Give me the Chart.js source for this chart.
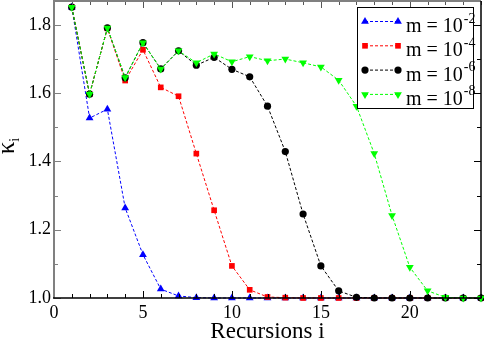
<!DOCTYPE html>
<html>
<head>
<title>Kappa vs recursions</title>
<script src="https://cdn.jsdelivr.net/npm/chart.js"></script>
<style>
  html, body { margin: 0; padding: 0; background: #fff; }
  #wrap { width: 484px; height: 338px; }
</style>
</head>
<body>
<div id="wrap"><canvas id="grafica"></canvas></div>
<script>
// datos
const recursions = [1, 2, 3, 4, 5, 6, 7, 8, 9, 10, 11, 12, 13, 14, 15, 16, 17, 18, 19, 20, 21, 22, 23, 24];
const kappaM2 = [1.852, 1.527, 1.553, 1.264, 1.127, 1.026, 1.006, 1.001, 1.0, 1.0, 1.0, 1.0, 1.0, 1.0, 1.0, 1.0, 1.0, 1.0, 1.0, 1.0, 1.0, 1.0, 1.0, 1.0];
const kappaM4 = [1.852, 1.597, 1.790, 1.637, 1.727, 1.617, 1.591, 1.423, 1.257, 1.094, 1.024, 1.003, 1.001, 1.0, 1.0, 1.0, 1.0, 1.0, 1.0, 1.0, 1.0, 1.0, 1.0, 1.0];
const kappaM6 = [1.852, 1.597, 1.791, 1.645, 1.748, 1.671, 1.724, 1.682, 1.705, 1.670, 1.648, 1.562, 1.429, 1.246, 1.094, 1.021, 1.002, 1.0, 1.0, 1.0, 1.0, 1.0, 1.0, 1.0];
const kappaM8 = [1.852, 1.597, 1.791, 1.646, 1.748, 1.671, 1.724, 1.689, 1.715, 1.692, 1.707, 1.695, 1.700, 1.689, 1.677, 1.638, 1.562, 1.423, 1.242, 1.090, 1.021, 1.002, 1.0, 1.0];
const legendExps = ['-2', '-4', '-6', '-8'];
const xTicks = [0, 5, 10, 15, 20];
const yTicks = [1.0, 1.2, 1.4, 1.6, 1.8];

const serif = '"Liberation Serif", "DejaVu Serif", serif';
Chart.defaults.font.family = serif;

function puntos(serie) {
    return recursions.map((r, i) => ({ x: r, y: serie[i] }));
}

function serieBase(label, color, style, serie, orden, radio, rot) {
    return {
        label: label,
        data: puntos(serie),
        borderColor: color,
        backgroundColor: color,
        borderWidth: 1,
        borderDash: [3, 2],
        pointStyle: style,
        pointRadius: radio,
        pointRotation: rot || 0,
        pointBorderWidth: 0,
        pointBackgroundColor: color,
        pointBorderColor: color,
        order: orden,
        clip: false,
        tension: 0
    };
}

const datasets = [
    serieBase('m = 10^-2', '#0000ff', 'triangle', kappaM2, 4, 4.5),
    serieBase('m = 10^-4', '#ff0000', 'rect', kappaM4, 3, 4),
    serieBase('m = 10^-6', '#000000', 'circle', kappaM6, 2, 3.6),
    serieBase('m = 10^-8', '#00ff00', 'triangle', kappaM8, 1, 4.5, 180)
];

// marco, ticks interiores, leyenda y titulo del eje y
const marco = {
    id: 'marco',
    afterDraw(chart) {
        const ctx = chart.ctx;
        const a = chart.chartArea;
        const xs = chart.scales.x, ys = chart.scales.y;
        ctx.save();

        function tickX(v, len) {
            const px = Math.round(xs.getPixelForValue(v)) + 0.5;
            ctx.strokeStyle = '#000';
            ctx.lineWidth = 1;
            ctx.beginPath(); ctx.moveTo(px, a.bottom); ctx.lineTo(px, a.bottom - len); ctx.stroke();
            ctx.strokeStyle = '#555';
            ctx.beginPath(); ctx.moveTo(px, a.top); ctx.lineTo(px, a.top + len); ctx.stroke();
        }
        function tickY(v, len) {
            const py = Math.round(ys.getPixelForValue(v)) + 0.5;
            ctx.strokeStyle = '#808080';
            ctx.lineWidth = 1;
            ctx.beginPath(); ctx.moveTo(a.left, py); ctx.lineTo(a.left + len, py); ctx.stroke();
            ctx.strokeStyle = '#000';
            ctx.beginPath(); ctx.moveTo(a.right, py); ctx.lineTo(a.right - len, py); ctx.stroke();
        }
        for (let v = 0; v <= 24; v++) tickX(v, v % 5 === 0 ? 7 : 4);
        for (let k = 0; k <= 8; k++) tickY(1.0 + k * 0.1, k % 2 === 0 ? 7 : 4);

        // marco
        ctx.lineWidth = 2;
        ctx.strokeStyle = '#808080';
        ctx.beginPath(); ctx.moveTo(a.left, a.bottom); ctx.lineTo(a.left, a.top); ctx.lineTo(a.right, a.top); ctx.stroke();
        ctx.lineWidth = 1.5;
        ctx.strokeStyle = '#000';
        ctx.beginPath(); ctx.moveTo(a.left - 1, a.bottom); ctx.lineTo(a.right, a.bottom); ctx.lineTo(a.right, a.top); ctx.stroke();

        // leyenda
        const bx = 357.5, by = 7.5, bw = 116, bh = 101;
        ctx.fillStyle = '#fff';
        ctx.fillRect(bx, by, bw, bh);
        ctx.lineWidth = 1;
        ctx.strokeStyle = '#000';
        ctx.strokeRect(bx, by, bw, bh);
        chart.data.datasets.forEach((ds, i) => {
            const ly = 21.5 + i * 24.3;
            ctx.save();
            ctx.strokeStyle = ds.borderColor;
            ctx.lineWidth = 1;
            ctx.setLineDash([3, 2]);
            ctx.beginPath(); ctx.moveTo(365, ly); ctx.lineTo(398, ly); ctx.stroke();
            ctx.restore();
            [365, 398].forEach(px => {
                ctx.fillStyle = ds.pointBackgroundColor;
                ctx.strokeStyle = ds.pointBorderColor;
                Chart.helpers.drawPoint(ctx, {
                    pointStyle: ds.pointStyle,
                    radius: ds.pointRadius,
                    rotation: ds.pointRotation,
                    borderWidth: 0
                }, px, ly);
            });
            ctx.fillStyle = '#000';
            ctx.textBaseline = 'alphabetic';
            ctx.textAlign = 'left';
            ctx.font = '20px ' + serif;
            const base = 'm = 10';
            ctx.fillText(base, 406, ly + 10.5);
            const w = ctx.measureText(base).width;
            ctx.font = '14px ' + serif;
            ctx.fillText(legendExps[i], 406 + w + 1, ly + 1);
        });

        // titulo eje y: kappa_i
        ctx.translate(14, 146);
        ctx.rotate(-Math.PI / 2);
        ctx.fillStyle = '#000';
        ctx.textAlign = 'left';
        ctx.textBaseline = 'alphabetic';
        ctx.font = '25px ' + serif;
        const kw = ctx.measureText('κ').width;
        ctx.fillText('κ', -kw / 2 - 2, 0);
        ctx.font = '14px ' + serif;
        ctx.fillText('i', kw / 2 - 2, 5);
        ctx.restore();
    }
};

new Chart(document.getElementById('grafica'), {
    type: 'line',
    data: { datasets: datasets },
    options: {
        responsive: true,
        maintainAspectRatio: false,
        animation: false,
        layout: { autoPadding: false, padding: { top: 1, right: 3, left: 0, bottom: 0 } },
        plugins: {
            legend: { display: false },
            tooltip: { enabled: false }
        },
        scales: {
            x: {
                type: 'linear',
                min: 0,
                max: 24,
                grid: { display: false, drawTicks: false },
                border: { display: false },
                afterBuildTicks: s => { s.ticks = xTicks.map(v => ({ value: v })); },
                afterFit: s => { s.height = 40; s.paddingLeft = 0; s.paddingRight = 0; },
                ticks: {
                    color: '#000',
                    padding: 4,
                    maxRotation: 0,
                    font: { family: serif, size: 18 }
                },
                title: {
                    display: true,
                    text: 'Recursions i',
                    color: '#000',
                    padding: { top: 0, bottom: -8 },
                    font: { family: serif, size: 23 }
                }
            },
            y: {
                min: 1.0,
                max: 1.87,
                grid: { display: false, drawTicks: false },
                border: { display: false },
                afterBuildTicks: s => { s.ticks = yTicks.map(v => ({ value: v })); },
                afterFit: s => { s.width = 54; s.paddingTop = 0; s.paddingBottom = 0; },
                ticks: {
                    color: '#000',
                    padding: 3,
                    font: { family: serif, size: 18 },
                    callback: v => v.toFixed(1)
                }
            }
        }
    },
    plugins: [marco]
});
</script>
</body>
</html>
